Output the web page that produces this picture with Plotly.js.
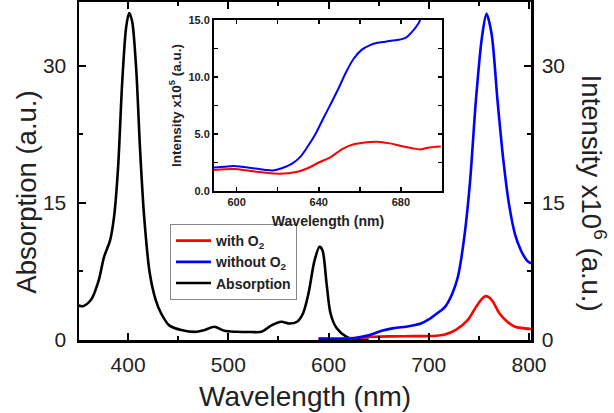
<!DOCTYPE html>
<html><head><meta charset="utf-8">
<script src="https://cdn.plot.ly/plotly-3.0.1.min.js"></script>
<style>html,body{margin:0;padding:0;background:#fff}#chart{width:614px;height:413px}</style>
</head><body><div id="chart"></div>
<script>
// Main chart: absorption (left axis)
var absWl  = [350,355,363,370.6,376,382,386,390,394,398,401,404,408,412,416,421.6,427.5,433,441,453,468.6,476.5,486,496,508,523.5,533,543,553,561,568.6,574.5,580,586,591,594,598,602,608,617.6,627,640];
var absVal = [3.8,3.7,4.4,6.5,9.1,10.9,13.5,18.9,28,34.2,35.8,34.9,29.8,20.7,13.5,7.3,4.4,2.9,1.6,1.1,0.9,1.1,1.45,1.0,0.9,0.87,0.9,1.6,2.0,1.8,2.0,2.9,5.1,8.7,10.2,9.8,6.2,2.9,1.3,0.36,0.0,0.05];
// Emission without O2 (right axis, x10^6)
var noO2Wl  = [590,610,625,641,653,665,680,692,700,708,716,723.5,729,735,741,747,753,757.6,762.7,768.6,774.5,780,786,792,798,802];
var noO2Val = [0.1,0.1,0.2,0.55,1.0,1.3,1.5,1.8,2.25,2.9,3.6,5.1,6.9,10.9,17.1,26.2,33.1,35.7,33.5,26.2,19.6,14.9,11.6,9.8,8.7,8.4];
// Emission with O2 (right axis, x10^6)
var withO2Wl  = [590,610,625,645,665,685,704,716,727,739,747,753,757,762.7,770.6,778.4,786,794,802];
var withO2Val = [0.18,0.17,0.2,0.36,0.4,0.42,0.44,0.6,1.1,2.2,3.6,4.5,4.8,4.4,2.9,2.0,1.45,1.3,1.2];
// Inset (x10^5)
var inNoWl  = [588.8,594,598.7,602.5,608,614,617.6,622,627,631,634.6,638.4,642,646,650,653.5,657,661,665,668.6,672.4,676,680,682.8,685.6,688.5,689.4];
var inNoVal = [2.05,2.13,2.2,2.13,2.0,1.85,1.8,2.0,2.4,3.0,3.9,5.0,6.3,7.7,9.15,10.5,11.6,12.4,12.8,13.0,13.1,13.2,13.3,13.5,14.0,14.7,15.0];
var inWithWl  = [588.8,598.7,606,614,621,629,634.6,640,646,651.6,657,665,668.6,674,680,685.6,689.4,693,699.4];
var inWithVal = [1.84,1.93,1.78,1.6,1.52,1.67,2.0,2.5,3.0,3.7,4.1,4.3,4.33,4.2,3.95,3.75,3.65,3.8,3.9];
// Labels
var mainXTicks = [400,500,600,700,800];
var mainYTicks = [0,15,30];
var insetXTicks = [600,640,680];
var insetYTicks = [0,5,10,15];
var names = ['with O<sub>2</sub>','without O<sub>2</sub>','Absorption'];

var RED = '#ff0000', BLUE = '#0000ff', BLACK = '#000000';
var FF = 'Arial, "Liberation Sans", sans-serif';

var traces = [
  {x: withO2Wl, y: withO2Val, xaxis:'x', yaxis:'y2', mode:'lines', name:names[0], line:{color:RED,width:2.6,shape:'spline',smoothing:0.8}},
  {x: noO2Wl, y: noO2Val, xaxis:'x', yaxis:'y2', mode:'lines', name:names[1], line:{color:BLUE,width:2.6,shape:'spline',smoothing:0.8}},
  {x: absWl, y: absVal, xaxis:'x', yaxis:'y', mode:'lines', name:names[2], line:{color:BLACK,width:2.6,shape:'spline',smoothing:0.8}},
  {x: inWithWl, y: inWithVal, xaxis:'x2', yaxis:'y3', mode:'lines', showlegend:false, line:{color:RED,width:2,shape:'spline',smoothing:0.8}},
  {x: inNoWl, y: inNoVal, xaxis:'x2', yaxis:'y3', mode:'lines', showlegend:false, line:{color:BLUE,width:2,shape:'spline',smoothing:0.8}}
];

var mainAxis = {showline:true, linewidth:2.5, linecolor:'#000', ticks:'inside', ticklen:7, tickwidth:2, tickcolor:'#000', showgrid:false, zeroline:false, tickfont:{family:FF,size:21,color:'#222'}};
var insetMinor = {ticks:'inside', ticklen:4, tickwidth:1.5, tickcolor:'#000'};

var layout = {
  width:614, height:413,
  margin:{l:79, r:83, t:2, b:73},
  paper_bgcolor:'#fff', plot_bgcolor:'rgba(0,0,0,0)',
  font:{family:FF, color:'#222'},
  xaxis: Object.assign({}, mainAxis, {domain:[0,1], anchor:'y', range:[351,802], tickvals:mainXTicks, mirror:'ticks', ticklabelstandoff:4, minor:{dtick:50, tick0:0, ticks:'inside', ticklen:4, tickwidth:2, tickcolor:'#000'}}),
  yaxis: Object.assign({}, mainAxis, {domain:[0,1], anchor:'x', range:[0,37], tickvals:mainYTicks, ticklabelstandoff:6, minor:{dtick:7.5, tick0:0, ticks:'inside', ticklen:4, tickwidth:2, tickcolor:'#000'}}),
  yaxis2: Object.assign({}, mainAxis, {overlaying:'y', side:'right', anchor:'x', range:[0,37], tickvals:mainYTicks, ticklabelstandoff:4, minor:{dtick:7.5, tick0:0, ticks:'inside', ticklen:4, tickwidth:2, tickcolor:'#000'}}),
  xaxis2: {domain:[0.2987,0.8031], anchor:'y3', range:[589,700], tickvals:insetXTicks, minor:Object.assign({dtick:20, tick0:600}, insetMinor), showline:true, linewidth:2, linecolor:'#000', mirror:'allticks', ticks:'inside', ticklen:4, tickwidth:1.5, tickcolor:'#000', showgrid:false, zeroline:false, tickfont:{family:FF,size:11,weight:700,color:'#222'},
    title:{text:'Wavelength (nm)', font:{family:FF,size:14,weight:700,color:'#222'}, standoff:9}},
  yaxis3: {domain:[0.4408,0.9467], anchor:'x2', range:[0,15], tickvals:insetYTicks, tickformat:'.1f', minor:Object.assign({dtick:2.5, tick0:0}, insetMinor), showline:true, linewidth:2, linecolor:'#000', mirror:'allticks', ticks:'inside', ticklen:4, tickwidth:1.5, tickcolor:'#000', showgrid:false, zeroline:false, tickfont:{family:FF,size:11,weight:700,color:'#222'},
    title:{text:'Intensity x10<sup>5</sup> (a.u.)', font:{family:FF,size:13.5,weight:700,color:'#222'}, standoff:4}},
  showlegend:true,
  legend:{x:0.2013, y:0.343, xanchor:'left', yanchor:'top', bgcolor:'#fff', bordercolor:'#888', borderwidth:1, font:{family:FF,size:14,weight:700,color:'#222'}, itemwidth:35, tracegroupgap:0},
  annotations:[
    {xref:'paper', yref:'paper', x:0.5, y:-0.1686, xanchor:'center', yanchor:'middle', showarrow:false, text:'Wavelength (nm)', font:{family:FF,size:28,color:'#222'}},
    {xref:'paper', yref:'paper', x:-0.115, y:0.436, xanchor:'center', yanchor:'middle', showarrow:false, textangle:-90, text:'Absorption (a.u.)', font:{family:FF,size:27.5,color:'#222'}},
    {xref:'paper', yref:'paper', x:1.137, y:0.433, xanchor:'center', yanchor:'middle', showarrow:false, textangle:90, text:'Intensity x10<sup>6</sup> (a.u.)', font:{family:FF,size:27.5,color:'#222'}}
  ]
};

Plotly.newPlot('chart', traces, layout, {staticPlot:true, displayModeBar:false});
</script></body></html>
